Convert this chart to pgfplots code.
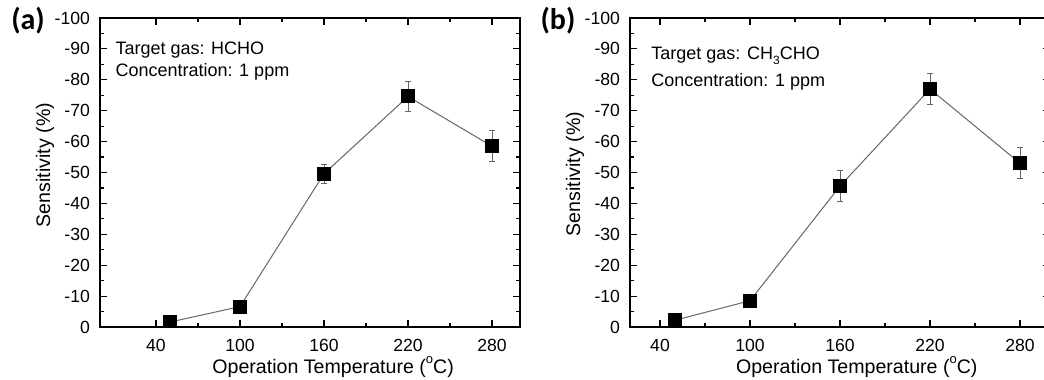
\documentclass[border=0pt]{standalone}
\usepackage{fontspec}
\setmainfont{Liberation Sans}
\newfontfamily\carlito{Carlito}
\usepackage{pgfplots}
\pgfplotsset{compat=1.18}
\definecolor{linegray}{HTML}{666666}
\pgfplotsset{
 myax/.style={
  scale only axis, width=210pt, height=154.5pt, anchor=south west,
  xmax=300, ymin=-100, ymax=0, y dir=reverse,
  xtick={40,100,160,220,280}, ytick={-100,-90,...,0},
  minor x tick num=1, minor y tick num=1,
  tick align=inside, major tick length=3.5pt, minor tick length=2pt,
  ticklabel style={font=\fontsize{8.8}{10}\selectfont},
  /pgf/number format/assume math mode=true,
  axis line style={line width=0.6pt, black},
  tick style={line width=0.6pt, black},
  yticklabel style={xshift=-1.5pt}, xticklabel style={yshift=-2.5pt},
  clip marker paths=true,
  label style={font=\fontsize{9.8}{11}\selectfont},
  ylabel={Sensitivity (\%)},
  xlabel={Operation Temperature (\raisebox{0.9ex}{\fontsize{6.5}{7}\selectfont o}C)},
 },
 myplot/.style={color=linegray, line width=0.5pt, mark=square*, mark size=3.25pt,
  mark options={fill=black, draw=black},
  error bars/.cd, y dir=both, y explicit,
  error bar style={linegray, line width=0.5pt},
  error mark options={rotate=90, mark size=1.6pt, linegray, line width=0.5pt}},
}
\begin{document}
\begin{tikzpicture}
\useasboundingbox (0,0) rectangle (522pt,190pt);
\clip (0,0) rectangle (522pt,190pt);
% panel (a)
\begin{axis}[myax, at={(50pt,26.5pt)}, xmin=0,
  xlabel style={at={(axis description cs:0.555,-0.149)}, anchor=base},
  ylabel style={at={(axis description cs:-0.131,0.524)}, anchor=center, rotate=0}]
\addplot[myplot] coordinates {
 (50,-1.6) +- (0,0.5)
 (100,-6.6) +- (0,1)
 (160,-49.6) +- (0,3)
 (220,-74.6) +- (0,5)
 (280,-58.5) +- (0,5)
};
\node[anchor=base west, inner sep=0, font=\fontsize{9}{10}\selectfont] at (rel axis cs:0.036,0.883) {Target gas: HCHO};
\node[anchor=base west, inner sep=0, font=\fontsize{9}{10}\selectfont] at (rel axis cs:0.036,0.812) {Concentration: 1 ppm};
\end{axis}
% panel (b)
\begin{axis}[myax, at={(315pt,26.5pt)}, xmin=20,
  xlabel style={at={(axis description cs:0.54,-0.149)}, anchor=base},
  ylabel style={at={(axis description cs:-0.131,0.495)}, anchor=center, rotate=0}]
\addplot[myplot] coordinates {
 (50,-2.2) +- (0,0.5)
 (100,-8.5) +- (0,1)
 (160,-45.6) +- (0,5)
 (220,-77.0) +- (0,5)
 (280,-53.0) +- (0,5)
};
\node[anchor=base west, inner sep=0, font=\fontsize{9}{10}\selectfont] at (rel axis cs:0.05,0.867) {Target gas: CH\raisebox{-0.55ex}{\fontsize{6}{6}\selectfont 3}CHO};
\node[anchor=base west, inner sep=0, font=\fontsize{9}{10}\selectfont] at (rel axis cs:0.05,0.777) {Concentration: 1 ppm};
\end{axis}
\node[font=\carlito\bfseries\fontsize{15}{17}\selectfont] at (14pt,179.5pt) {(a)};
\node[font=\carlito\bfseries\fontsize{15}{17}\selectfont] at (279pt,179.5pt) {(b)};
\end{tikzpicture}
\end{document}
